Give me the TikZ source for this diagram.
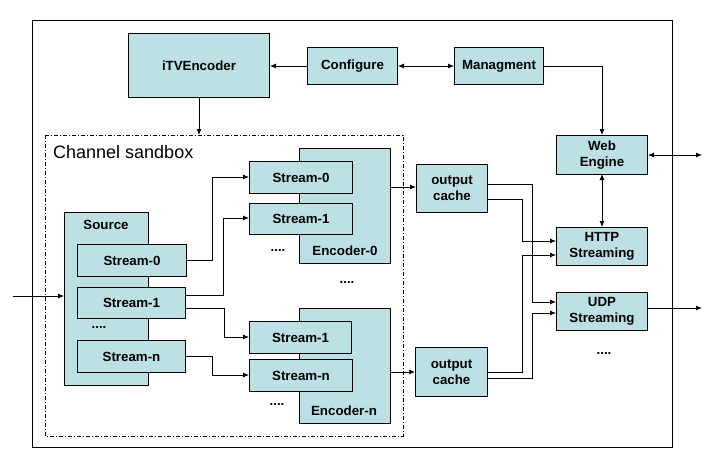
\documentclass[tikz,border=0pt]{standalone}
\usepackage{fontspec}
\setmainfont{Liberation Sans}
\usetikzlibrary{arrows.meta}
\definecolor{boxfill}{RGB}{188,224,227}
\tikzset{
  x=1pt, y=-1pt,
  box/.style={draw=black, line width=1pt, fill=boxfill, anchor=north west, inner sep=0pt,
    font=\fontsize{13.3}{16}\selectfont\bfseries, align=center},
  lbl/.style={font=\fontsize{13.3}{16}\selectfont\bfseries, inner sep=0pt},
  conn/.style={line width=0.8pt, -{Latex[length=6pt,width=5pt]}},
  biconn/.style={line width=0.8pt, {Latex[length=6pt,width=5pt]}-{Latex[length=6pt,width=5pt]}},
}
\newcommand{\bx}[6]{\node[box, minimum width=#4-#2, minimum height=#5-#3] (#1) at (#2,#3) {#6};}
\begin{document}
\begin{tikzpicture}
\useasboundingbox (0,0) rectangle (721,466);
\fill[white] (0,0) rectangle (721,466);
% outer frame
\draw[line width=1pt] (32,20) rectangle (672,447);
% sandbox
\draw[line width=0.8pt, dash pattern=on 4pt off 2pt on 1pt off 2pt] (45,135) rectangle (403,436);
\node[anchor=west, inner sep=0pt, font=\fontsize{18}{20}\selectfont] (sbl) at (53,152) {Channel sandbox};

% top row
\bx{itv}{128}{33}{269}{97}{iTVEncoder}
\bx{conf}{307}{47}{397}{84}{Configure}
\bx{mgmt}{454}{47}{543}{84}{Managment}

% right column
\bx{web}{556}{135}{647}{174}{Web\\Engine}
\bx{http}{556}{227}{647}{265}{HTTP\\Streaming}
\bx{udp}{556}{292}{647}{330}{UDP\\Streaming}
\node[lbl] (dr) at (604,354) {....};

% output caches
\bx{oc1}{416}{164}{487}{212}{output\\cache}
\bx{oc2}{415}{347}{487}{396}{output\\cache}

% source
\bx{src}{64}{212}{148}{385}{}
\node[lbl] (srcl) at (106,225) {Source};
\bx{s0}{77}{244}{186}{276}{Stream-0}
\bx{s1}{77}{287}{185}{318}{Stream-1}
\node[lbl] (sd) at (99,328) {....};
\bx{sn}{77}{340}{185}{372}{Stream-n}

% encoder-0
\bx{enc0}{299}{148}{390}{263}{}
\node[lbl] (enc0l) at (345,251) {Encoder-0};
\bx{e0s0}{249}{161}{352}{193}{Stream-0}
\bx{e0s1}{249}{203}{352}{234}{Stream-1}
\node[lbl] (e0d) at (278,251) {....};
\node[lbl] (md) at (347,283) {....};

% encoder-n
\bx{encn}{299}{308}{390}{423}{}
\node[lbl] (encnl) at (344,411) {Encoder-n};
\bx{ens1}{249}{321}{351}{353}{Stream-1}
\bx{ensn}{249}{359}{352}{391}{Stream-n}
\node[lbl] (end) at (277,405) {....};

% free ends
\coordinate (inp) at (13,296);
\coordinate (webout) at (702,155);
\coordinate (udpout) at (702,308);
\coordinate (sbtop) at (199,135);

% connectors
\draw[conn] (conf.west) -- (itv.east |- conf.west);
\draw[biconn] (conf.east) -- (mgmt.west);
\draw[conn] (mgmt.east) -| (602,135);
\draw[conn] (itv.south -| sbtop) -- (sbtop);
\draw[biconn] (web.east |- webout) -- (webout);
\draw[biconn] (602,174) -- (602,227);
\draw[conn] (udp.east |- udpout) -- (udpout);
\draw[conn] (inp) -- (src.west |- inp);

\draw[conn] (s0.east |- 0,260) -| (212,177) -- (e0s0.west |- 0,177);
\draw[conn] (s1.east |- 0,295) -| (223,218) -- (e0s1.west |- 0,218);
\draw[conn] (s1.east |- 0,308) -| (224,337) -- (ens1.west |- 0,337);
\draw[conn] (sn.east |- 0,356) -| (212,375) -- (ensn.west |- 0,375);

\draw[conn] (enc0.east |- 0,187) -- (oc1.west |- 0,187);
\draw[conn] (encn.east |- 0,372) -- (oc2.west |- 0,372);

\draw[conn] (oc1.east |- 0,184) -| (532,302) -- (udp.west |- 0,302);
\draw[conn] (oc1.east |- 0,199) -| (522,241) -- (http.west |- 0,241);
\draw[conn] (oc2.east |- 0,372) -| (522,255) -- (http.west |- 0,255);
\draw[conn] (oc2.east |- 0,378) -| (532,313) -- (udp.west |- 0,313);
\end{tikzpicture}
\end{document}
